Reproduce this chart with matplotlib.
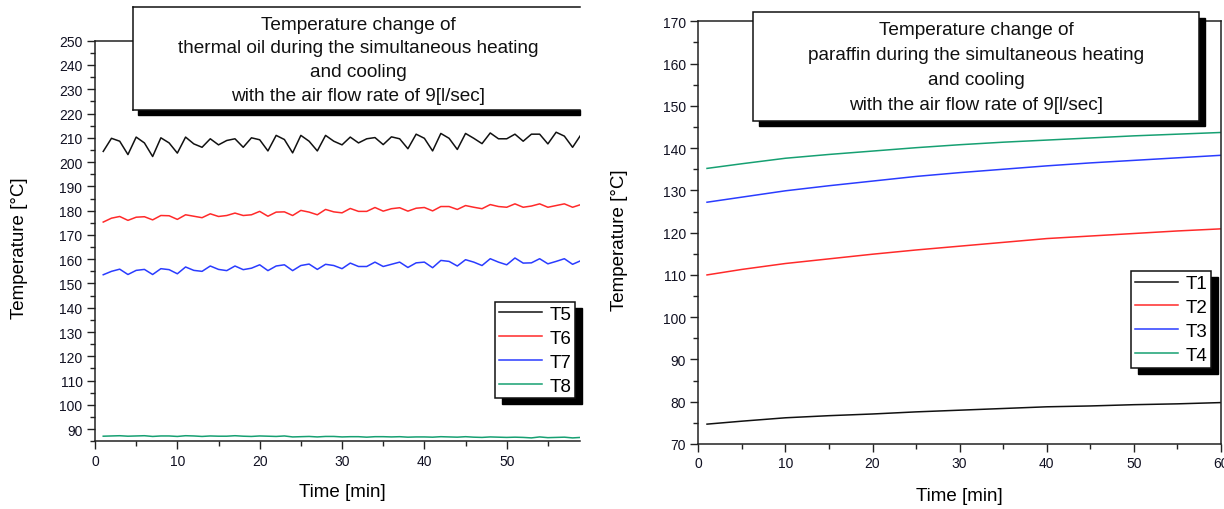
import numpy as np
import matplotlib
matplotlib.use('Agg')
import matplotlib.pyplot as plt
from matplotlib.patches import Rectangle
from matplotlib.lines import Line2D
from matplotlib.ticker import MultipleLocator
from matplotlib.transforms import IdentityTransform

plt.rcParams['font.family'] = ['Liberation Sans', 'DejaVu Sans']

# ---- data: thermal oil (left) ----
time_oil = list(range(1, 60))
T5 = [204.4, 209.8, 208.6, 203.1, 210.3, 207.9, 202.3, 210.0, 207.9, 203.7,
      210.3, 207.5, 206.1, 209.6, 207.1, 208.9, 209.6, 206.1, 210.0, 209.2,
      204.6, 211.0, 209.3, 203.8, 211.0, 208.6, 204.6, 211.0, 208.6, 207.1,
      210.3, 207.9, 209.6, 210.1, 207.2, 210.4, 209.6, 205.5, 211.5, 209.8,
      204.6, 211.8, 209.8, 205.2, 211.8, 209.8, 207.6, 212.0, 209.6, 209.6,
      211.5, 208.6, 211.5, 211.5, 207.5, 212.3, 210.7, 206.1, 211.2]
T6 = [175.3, 176.9, 177.6, 176.0, 177.3, 177.5, 176.2, 178.0, 177.9, 176.4,
      178.3, 177.7, 177.1, 178.7, 177.6, 178.0, 179.0, 178.0, 178.3, 179.7,
      177.7, 179.4, 179.5, 178.0, 180.1, 179.4, 178.3, 180.5, 179.5, 179.1,
      180.9, 179.7, 179.7, 181.3, 179.8, 180.8, 181.2, 179.8, 181.0, 181.3,
      179.9, 181.7, 181.7, 180.5, 182.1, 181.4, 180.8, 182.5, 181.7, 181.4,
      182.8, 181.4, 181.9, 182.8, 181.4, 182.1, 182.8, 181.4, 182.5]
T7 = [153.6, 155.0, 155.9, 153.7, 155.4, 155.8, 153.7, 156.1, 155.7, 154.0,
      156.8, 155.4, 155.0, 157.2, 155.8, 155.3, 157.2, 155.7, 156.3, 157.7,
      155.3, 157.2, 157.7, 155.3, 157.4, 158.0, 155.8, 157.9, 157.4, 156.1,
      158.4, 157.0, 157.0, 158.8, 157.0, 157.9, 158.8, 156.6, 158.5, 158.8,
      156.5, 159.5, 159.1, 157.2, 159.8, 158.8, 157.4, 160.2, 158.8, 157.7,
      160.5, 158.4, 158.5, 160.2, 158.1, 159.1, 160.2, 157.9, 159.4]
T8 = [87.1, 87.2, 87.3, 87.1, 87.2, 87.3, 87.0, 87.2, 87.2, 87.0,
      87.3, 87.2, 87.0, 87.2, 87.1, 87.1, 87.3, 87.1, 87.0, 87.2,
      87.1, 87.0, 87.2, 86.8, 86.9, 87.0, 86.8, 87.0, 87.0, 86.8,
      86.9, 86.9, 86.7, 86.9, 86.9, 86.8, 86.9, 86.7, 86.8, 86.8,
      86.7, 86.9, 86.8, 86.7, 86.9, 86.7, 86.6, 86.8, 86.7, 86.6,
      86.7, 86.6, 86.4, 86.8, 86.5, 86.6, 86.7, 86.4, 86.6]

# ---- data: paraffin (right) ----
time_par = [1, 5, 10, 15, 20, 25, 30, 35, 40, 45, 50, 55, 60]
T1 = [74.7, 75.4, 76.2, 76.7, 77.1, 77.6, 78.0, 78.4, 78.8, 79.0, 79.3, 79.5, 79.8]
T2 = [110.0, 111.3, 112.7, 113.8, 114.9, 115.9, 116.8, 117.7, 118.6, 119.2, 119.8, 120.4, 120.9]
T3 = [127.2, 128.4, 129.9, 131.1, 132.2, 133.3, 134.2, 135.0, 135.8, 136.5, 137.1, 137.7, 138.3]
T4 = [135.2, 136.3, 137.6, 138.5, 139.3, 140.1, 140.8, 141.4, 141.9, 142.4, 142.9, 143.3, 143.7]

title_oil = ['Temperature change of',
             'thermal oil during the simultaneous heating',
             'and cooling',
             'with the air flow rate of 9[l/sec]']
title_par = ['Temperature change of',
             'paraffin during the simultaneous heating',
             'and cooling',
             'with the air flow rate of 9[l/sec]']

colors = ['#111111', '#ff2a2a', '#2a3cff', '#16a072']

W, H = 1224, 510
fig = plt.figure(figsize=(W / 100, H / 100), dpi=100)


def px(x, y):
    # pixel coords (top-left origin) -> figure fraction
    return x / W, 1 - y / H


def style_axes(ax, xmax, ylo, yhi, right_spine):
    ax.set_xlim(0, xmax)
    ax.set_ylim(ylo, yhi)
    ax.xaxis.set_major_locator(MultipleLocator(10))
    ax.xaxis.set_minor_locator(MultipleLocator(5))
    ax.yaxis.set_major_locator(MultipleLocator(10))
    ax.yaxis.set_minor_locator(MultipleLocator(5))
    ax.tick_params(which='both', direction='out', top=False, right=False,
                   width=1, colors='#222222', labelcolor='#111122')
    ax.tick_params(which='major', length=6, labelsize=10, pad=3)
    ax.tick_params(which='minor', length=3.5)
    for s in ax.spines.values():
        s.set_linewidth(1.1)
        s.set_color('#222222')
    ax.spines['right'].set_visible(right_spine)
    ax.set_xlabel('Time [min]', fontsize=13.5, va='center')
    ax.set_ylabel('Temperature [°C]', fontsize=13.5, va='center')


# left panel
ax1 = fig.add_axes([95 / W, 1 - 442.3 / H, 485 / W, 400.6 / H])
for y, c, lab in zip([T5, T6, T7, T8], colors, ['T5', 'T6', 'T7', 'T8']):
    ax1.plot(time_oil, y, color=c, lw=1.1, label=lab)
style_axes(ax1, 58.9, 85, 250, False)
ax1.xaxis.set_label_coords(0.511, -50 / 400.6)
ax1.yaxis.set_label_coords((20 - 95) / 485, 0.485)

# right panel
ax2 = fig.add_axes([698.3 / W, 1 - 445 / H, 522.7 / W, 422.7 / H])
for y, c, lab in zip([T1, T2, T3, T4], colors, ['T1', 'T2', 'T3', 'T4']):
    ax2.plot(time_par, y, color=c, lw=1.1, label=lab)
style_axes(ax2, 60, 70, 170, True)
ax2.xaxis.set_label_coords(0.5, -52 / 422.7)
ax2.yaxis.set_label_coords((619 - 698.3) / 522.7, 0.485)

legs = []
for ax, anchor in [(ax1, ((495 - 95) / 485, 1 - (303 - 41.7) / 400.6)),
                   (ax2, ((1131 - 698.3) / 522.7, 1 - (272.3 - 22.3) / 422.7))]:
    leg = ax.legend(loc='upper left', bbox_to_anchor=anchor, fontsize=13.5,
                    frameon=True, fancybox=False, edgecolor='#111111',
                    framealpha=1, borderpad=0.2, labelspacing=0.36,
                    handlelength=2.3, handletextpad=0.4, borderaxespad=0)
    leg.get_frame().set_linewidth(1.1)
    legs.append((ax, leg))

# title boxes (Origin style with black drop shadow)
# left box is cut by the image edge on its right side
x0, y0, x1, y1 = 132.7, 8.3, 580, 111
fig.patches.append(Rectangle(px(138, 116), (x1 - 138) / W, 5 / H,
                             transform=fig.transFigure, color='black', zorder=2))
fig.patches.append(Rectangle(px(x0, y1), (x1 + 3 - x0) / W, (y1 - y0) / H,
                             transform=fig.transFigure, facecolor='white',
                             edgecolor='none', zorder=3))
for xs, ys in [((x0, x1), (y0, y0)), ((x0, x0), (y0, y1)), ((x0, x1), (y1, y1))]:
    fx = [v / W for v in xs]
    fy = [1 - v / H for v in ys]
    fig.lines.append(Line2D(fx, fy, transform=fig.transFigure, color='#111111',
                            lw=1.1, zorder=4))
for i, line in enumerate(title_oil):
    fig.text(*px(358, 25 + 23.7 * i), line, ha='center', va='center',
             fontsize=13.7, color='#111111', zorder=5)

# right box
x0, y0, x1, y1 = 753.3, 13.3, 1199.3, 121.7
fig.patches.append(Rectangle(px(x0 + 5.5, y1 + 5.5), (x1 - x0) / W, (y1 - y0) / H,
                             transform=fig.transFigure, color='black', zorder=2))
fig.patches.append(Rectangle(px(x0, y1), (x1 - x0) / W, (y1 - y0) / H,
                             transform=fig.transFigure, facecolor='white',
                             edgecolor='#111111', lw=1.1, zorder=3))
for i, line in enumerate(title_par):
    fig.text(*px(976, 30.7 + 24.8 * i), line, ha='center', va='center',
             fontsize=13.7, color='#111111', zorder=5)

# legend shadows
fig.canvas.draw()
for ax, leg in legs:
    bb = leg.get_window_extent()
    ax.add_patch(Rectangle((bb.x0 + 7, bb.y0 - 6), bb.width, bb.height,
                           transform=IdentityTransform(), color='black',
                           zorder=4.5, clip_on=False))

fig.savefig('out.png', dpi=100)
